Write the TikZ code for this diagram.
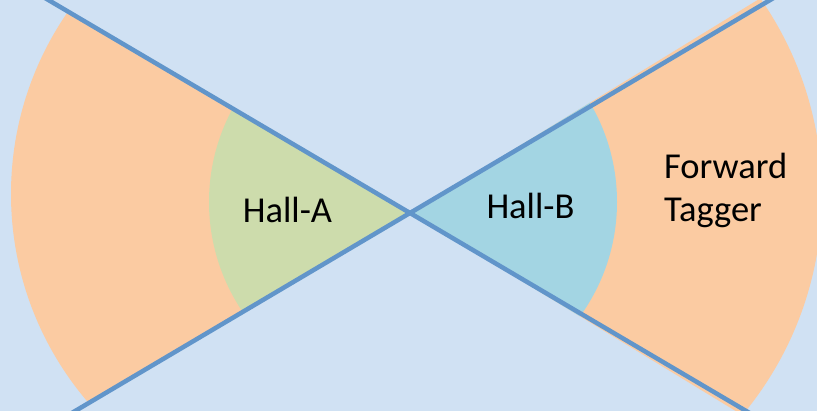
\documentclass[tikz,border=0pt]{standalone}
\usepackage{fontspec}
\setmainfont{Carlito}
\definecolor{bgblue}{RGB}{208,225,243}
\definecolor{sectorange}{RGB}{251,203,162}
\definecolor{sectgreen}{RGB}{205,220,172}
\definecolor{sectblue}{RGB}{163,213,227}
\definecolor{beamline}{RGB}{97,149,202}
\tikzset{
  beam/.style={draw=beamline, line width=4.5pt},
  label/.style={inner sep=0pt, font=\fontsize{36.5}{43}\selectfont, text=black}
}
\begin{document}
\begin{tikzpicture}[x=1pt, y=1pt]
  \useasboundingbox (0,0) rectangle (817,411);
  \fill[bgblue] (0,0) rectangle (817,411);
  \clip (0,0) rectangle (817,411);

  % crossing point of the two beam lines
  \coordinate (c) at (410,198);

  % left wedge: outer ring and inner sector
  \begin{scope}
    \clip (c) -- ([shift={(149.5:900pt)}]c) -- ([shift={(210.7:900pt)}]c) -- cycle;
    \fill[sectorange] (331,217) circle[radius=320pt];
    \fill[sectgreen] (405,209) circle[radius=196pt];
  \end{scope}

  % right wedge: outer ring and inner sector
  \begin{scope}
    \clip (c) -- ([shift={(31.5:900pt)}]c) -- ([shift={(-31.3:900pt)}]c) -- cycle;
    \fill[sectorange] (478,216) circle[radius=344pt];
    \fill[sectblue] (422,209) circle[radius=195pt];
  \end{scope}

  % the two beam lines
  \coordinate (l1a) at ([shift={(149.5:600pt)}]c);
  \coordinate (l1b) at ([shift={(-30.5:600pt)}]c);
  \coordinate (l2a) at ([shift={(210.6:600pt)}]c);
  \coordinate (l2b) at ([shift={(30.6:600pt)}]c);
  \draw[beam] (l1a) -- (l1b);
  \draw[beam] (l2a) -- (l2b);

  % labels
  \node[label, anchor=base] (halla) at (287.5,188) {Hall-A};
  \node[label, anchor=base] (hallb) at (530.5,192) {Hall-B};
  \node[label, anchor=west, align=left] (ftag) at (664,221) {Forward\\Tagger};
\end{tikzpicture}
\end{document}
